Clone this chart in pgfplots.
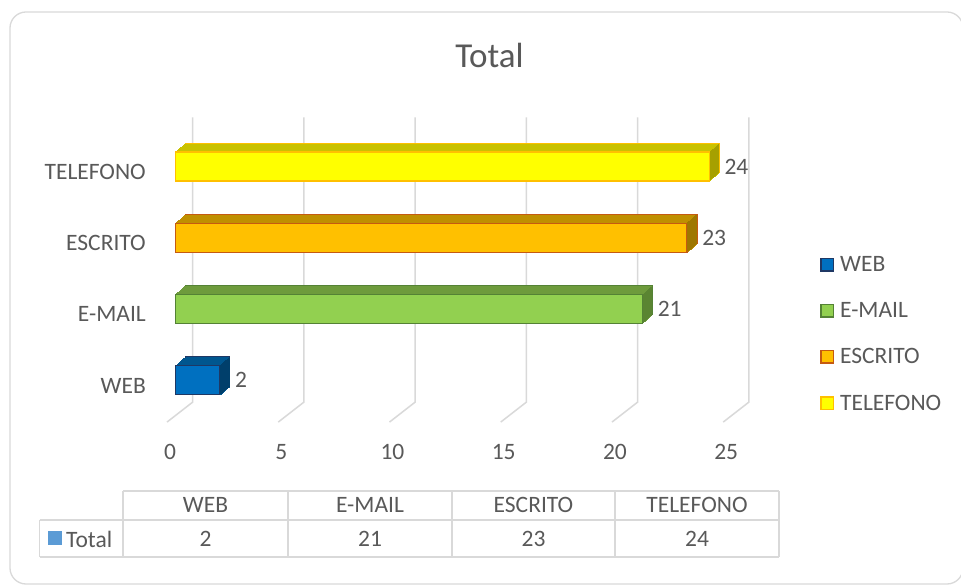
\documentclass[border=0pt]{standalone}
\usepackage{fontspec}
\setmainfont{Carlito}
\usepackage{pgfplots}
\pgfplotsset{compat=1.18}

\definecolor{txt}{HTML}{595959}
\definecolor{gridc}{HTML}{D9D9D9}
\definecolor{tblsq}{HTML}{5B9BD5}
% front fill / border / top face / side face
\definecolor{webF}{HTML}{0070C0}\definecolor{webB}{HTML}{1F3864}\definecolor{webT}{HTML}{00568F}\definecolor{webS}{HTML}{003F6B}
\definecolor{mailF}{HTML}{92D050}\definecolor{mailB}{HTML}{548235}\definecolor{mailT}{HTML}{6E9B3C}\definecolor{mailS}{HTML}{5A8532}
\definecolor{escF}{HTML}{FFC000}\definecolor{escB}{HTML}{C55A11}\definecolor{escT}{HTML}{BF9000}\definecolor{escS}{HTML}{9E7700}
\definecolor{telF}{HTML}{FFFF00}\definecolor{telB}{HTML}{FFC000}\definecolor{telT}{HTML}{C9C200}\definecolor{telS}{HTML}{A6A000}

\newcommand{\lbl}{\fontsize{23.5pt}{28pt}\selectfont}

% a bar with a fake depth: shifted copies behind the front face
\newcommand{\solidbar}[6]{%
  \addplot[xbar, bar shift=0pt, bar width=29pt, fill=#4, draw=#3, line width=1pt,
    forget plot, xshift=10pt, yshift=8.7pt] coordinates {#1};
  \pgfplotsinvokeforeach{9,8,...,1}{%
    \addplot[xbar, bar shift=0pt, bar width=29pt, fill=#4, draw=#4, line width=0.4pt,
      forget plot, xshift=##1pt, yshift=0.87*##1pt] coordinates {#1};
    \addplot[only marks, mark=|, mark size=14.5pt, mark options={draw=#5, line width=1.5pt},
      forget plot, xshift=##1pt, yshift=0.87*##1pt] coordinates {#1};
  }
  \addplot[xbar, bar shift=0pt, bar width=29pt, fill=#2, draw=#3, line width=1.2pt,
    point meta=x, nodes near coords] coordinates {#1};
  \addlegendentry{#6}
}

\begin{document}
\begin{tikzpicture}
\path[use as bounding box] (0pt,0pt) rectangle (961pt,586pt);
\fill[white] (0pt,0pt) rectangle (961pt,586pt);
\draw[gridc, line width=1.3pt, rounded corners=16pt] (10pt,2pt) rectangle (963pt,574pt);

\node[text=txt, font=\fontsize{35pt}{40pt}\selectfont, inner sep=0pt] at (489.5pt,531pt) {Total};

\begin{axis}[
  at={(175.3pt,170.3pt)}, anchor=south west, scale only axis,
  width=556.2pt, height=284.8pt,
  xmin=0, xmax=25, ymin=-0.5, ymax=3.5,
  clip=false,
  axis line style={draw=none}, major tick length=0pt,
  xtick={0,5,...,25}, ytick={0,1,2,3},
  yticklabels={WEB,E-MAIL,ESCRITO,TELEFONO},
  /pgf/number format/assume math mode=true,
  tick label style={font=\lbl, text=txt, inner sep=0pt},
  xticklabel style={anchor=center, xshift=-5.3pt, yshift=-36.3pt},
  yticklabel style={anchor=east, xshift=-29.3pt, yshift=-5.5pt},
  every node near coord/.append style={anchor=west, inner sep=0pt, xshift=14.7pt, font=\lbl, text=txt},
  legend style={at={(1.159,0.287)}, anchor=west, draw=none, fill=none, inner sep=0pt,
    row sep=29.6pt, column sep=6pt, font=\lbl, text=txt, nodes={inner sep=0pt}},
  legend cell align=left,
  legend image code/.code={\draw[#1, line width=1.5pt] (0.75pt,-6.25pt) rectangle (13.25pt,6.25pt);},
]
\pgfplotsinvokeforeach{0,5,...,25}{
  \draw[gridc, line width=1.5pt] ([shift={(-8.3pt,-6.4pt)}]axis cs:#1,-0.5)
    -- ([shift={(17.4pt,13.6pt)}]axis cs:#1,-0.5)
    -- ([shift={(17.4pt,13.6pt)}]axis cs:#1,3.5);
}
\solidbar{(2,0)}{webF}{webB}{webT}{webS}{WEB}
\solidbar{(21,1)}{mailF}{mailB}{mailT}{mailS}{E-MAIL}
\solidbar{(23,2)}{escF}{escB}{escT}{escS}{ESCRITO}
\solidbar{(24,3)}{telF}{telB}{telT}{telS}{TELEFONO}
\end{axis}

% data table under the chart
\draw[gridc, line width=1.2pt]
  (123pt,95pt) -- (779pt,95pt)
  (39.5pt,66pt) -- (779pt,66pt)
  (39.5pt,29pt) -- (779pt,29pt)
  (39.5pt,29pt) -- (39.5pt,66pt)
  (123pt,29pt) -- (123pt,95pt)
  (288pt,29pt) -- (288pt,95pt)
  (452pt,29pt) -- (452pt,95pt)
  (615pt,29pt) -- (615pt,95pt)
  (779pt,29pt) -- (779pt,95pt);
\begin{scope}[every node/.style={text=txt, font=\lbl, inner sep=0pt}]
  \node at (205.5pt,81pt) {WEB};
  \node at (370pt,81pt) {E-MAIL};
  \node at (533.5pt,81pt) {ESCRITO};
  \node at (697pt,81pt) {TELEFONO};
  \node at (205.5pt,47pt) {2};
  \node at (370pt,47pt) {21};
  \node at (533.5pt,47pt) {23};
  \node at (697pt,47pt) {24};
  \fill[tblsq] (48pt,41pt) rectangle (62pt,55pt);
  \node[anchor=west] at (66pt,47pt) {Total};
\end{scope}
\end{tikzpicture}
\end{document}
